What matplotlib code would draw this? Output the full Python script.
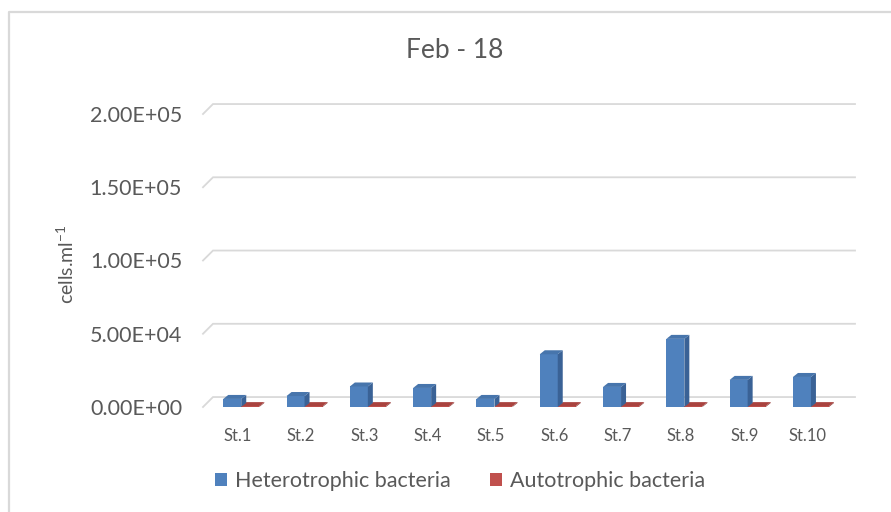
import matplotlib
matplotlib.use('Agg')
import matplotlib.pyplot as plt
from matplotlib.patches import Polygon, Patch
from matplotlib.lines import Line2D
import numpy as np

plt.rcParams['font.family'] = ['Lato', 'DejaVu Sans']
plt.rcParams['mathtext.fontset'] = 'custom'
plt.rcParams['mathtext.rm'] = 'Lato'

stations = ['St.1', 'St.2', 'St.3', 'St.4', 'St.5', 'St.6', 'St.7', 'St.8', 'St.9', 'St.10']
hetero = [5500, 7500, 14000, 13000, 5500, 36000, 13700, 46500, 18500, 20500]
auto = [600, 600, 600, 600, 600, 600, 600, 600, 600, 600]
yticks = [0, 50000, 100000, 150000, 200000]
ytick_labels = ['0.00E+00', '5.00E+04', '1.00E+05', '1.50E+05', '2.00E+05']

txt = '#595959'
grid_c = '#D9D9D9'
blue = ['#4F81BD', '#3A6296', '#4775AC']   # front, side, top
red = ['#C0504D', '#8E3A38', '#A9433F']

fig = plt.figure(figsize=(8.91, 5.12), dpi=100)
ax = fig.add_axes([203/891, 105/512, 652/891, 293/512])
ax.set_xlim(-0.55, 9.75)
ax.set_ylim(0, 200000)
for s in ax.spines.values():
    s.set_visible(False)

# depth of the 3d look, in data units
gx, gy = 0.158, 6800      # back wall offset
dx, dy = 0.079, 2730      # bar depth

# gridlines on the back wall with a little diagonal at left
for v in yticks:
    ax.plot([-0.55, -0.55 + gx, 9.75], [v, v + gy, v + gy], color=grid_c, lw=1.3,
            clip_on=False, zorder=1, solid_joinstyle='miter')

def bar3d(x0, w, h, cols):
    ax.bar(x0, h, w, align='edge', color=cols[0], zorder=3, linewidth=0)
    side = Polygon([(x0 + w, 0), (x0 + w + dx, dy), (x0 + w + dx, h + dy), (x0 + w, h)],
                   closed=True, facecolor=cols[1], edgecolor='none', zorder=3)
    top = Polygon([(x0, h), (x0 + w, h), (x0 + w + dx, h + dy), (x0 + dx, h + dy)],
                  closed=True, facecolor=cols[2], edgecolor='none', zorder=3)
    ax.add_patch(side)
    ax.add_patch(top)

w = 0.284
for i in range(len(stations)):
    bar3d(i + 0.055, w, auto[i], red)
    bar3d(i - 0.23, w, hetero[i], blue)

ax.set_xticks(np.arange(len(stations)))
ax.set_xticklabels(stations)
ax.set_yticks(yticks)
ax.set_yticklabels(ytick_labels)
ax.tick_params(axis='x', length=0, pad=15, labelsize=12, labelcolor=txt)
ax.tick_params(axis='y', length=0, pad=15, labelsize=15.5, labelcolor=txt)

fig.text(66/891, 1 - 264/512, 'cells.ml$^{\\mathrm{-1}}$', rotation=90, ha='center', va='center',
         fontsize=14, color=txt)
fig.text(455/891, 1 - 51/512, 'Feb - 18', ha='center', va='center', fontsize=19, color=txt)

handles = [Patch(facecolor=blue[0]), Patch(facecolor=red[0])]
fig.legend(handles, ['Heterotrophic bacteria', 'Autotrophic bacteria'], ncol=2,
           loc='center', bbox_to_anchor=(460/891, 1 - 481/512), frameon=False,
           fontsize=15.5, labelcolor=txt, handlelength=0.55, handleheight=0.55,
           handletextpad=0.4, columnspacing=1.8)

# chart border
fig.add_artist(Line2D([8.5/891, 8.5/891, 1], [0, 1 - 11.5/512, 1 - 11.5/512],
                      color=grid_c, lw=1.6))

fig.savefig('out.png', dpi=100)
